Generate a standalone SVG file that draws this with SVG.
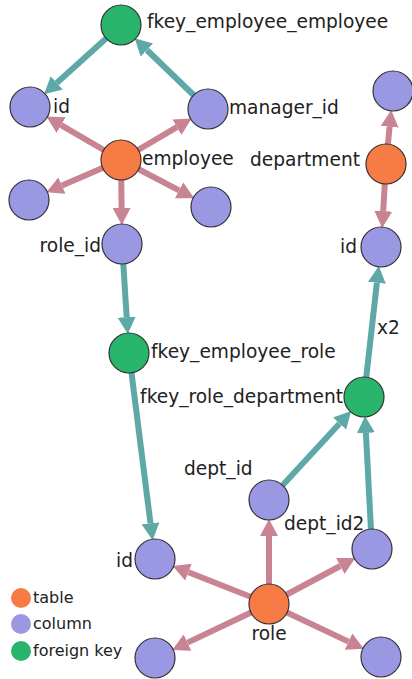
<svg xmlns="http://www.w3.org/2000/svg" width="412" height="679" viewBox="0 0 412 679">
<style>
.fk{stroke:#5fa8a8;stroke-width:6;fill:none;marker-end:url(#ah-fk)}
.col{stroke:#c98494;stroke-width:6;fill:none;marker-end:url(#ah-col)}
circle{stroke:#333;stroke-width:1.2}
#legend circle{stroke:none}
.t{fill:#f77b45}.c{fill:#9b98e3}.f{fill:#28b46a}
text{font-family:"DejaVu Sans",sans-serif;font-size:18.6px;fill:#222}
.lg{font-size:16px}
.e{text-anchor:end}.m{text-anchor:middle}
</style>
<defs>
<marker id="ah-fk" markerUnits="userSpaceOnUse" markerWidth="17" markerHeight="18" refX="0" refY="9" orient="auto"><path d="M0,0 L17,9 L0,18 z" fill="#5fa8a8"/></marker>
<marker id="ah-col" markerUnits="userSpaceOnUse" markerWidth="17" markerHeight="18" refX="0" refY="9" orient="auto"><path d="M0,0 L17,9 L0,18 z" fill="#c98494"/></marker>
</defs>
<g id="connectors">
<line class="fk" x1="121" y1="25" x2="56.7" y2="82.9"/>
<line class="fk" x1="208" y1="109" x2="146.9" y2="50"/>
<line class="fk" x1="122" y1="244" x2="126.7" y2="317.1"/>
<line class="fk" x1="129" y1="353" x2="150.5" y2="523.3"/>
<line class="fk" x1="364" y1="397" x2="376.9" y2="282.8"/>
<line class="fk" x1="269" y1="500" x2="339.6" y2="423.5"/>
<line class="fk" x1="372" y1="549" x2="365.9" y2="432.9"/>
<line class="col" x1="121" y1="160" x2="61.1" y2="125.1"/>
<line class="col" x1="121" y1="160" x2="176.9" y2="127.2"/>
<line class="col" x1="121" y1="160" x2="62" y2="185.6"/>
<line class="col" x1="121" y1="160" x2="179.1" y2="190.3"/>
<line class="col" x1="121" y1="160" x2="121.6" y2="208"/>
<line class="col" x1="386" y1="164" x2="389.6" y2="126.8"/>
<line class="col" x1="386" y1="164" x2="383.2" y2="211.1"/>
<line class="col" x1="269" y1="604" x2="188.5" y2="572.2"/>
<line class="col" x1="269" y1="604" x2="269" y2="536"/>
<line class="col" x1="269" y1="604" x2="340.3" y2="566"/>
<line class="col" x1="269" y1="604" x2="187.5" y2="642.6"/>
<line class="col" x1="269" y1="604" x2="348.5" y2="641.6"/>
<text x="377" y="334">x2</text>
</g>
<g id="fkey_employee_employee"><circle class="f" cx="121" cy="25" r="20"/><text x="147" y="28">fkey_employee_employee</text></g>
<g id="employee_id"><circle class="c" cx="30" cy="107" r="20"/><text x="53" y="113">id</text></g>
<g id="manager_id"><circle class="c" cx="208" cy="109" r="20"/><text x="229" y="114">manager_id</text></g>
<g id="department_col"><circle class="c" cx="393" cy="91" r="20"/></g>
<g id="employee"><circle class="t" cx="121" cy="160" r="20"/><text x="142" y="165">employee</text></g>
<g id="department"><circle class="t" cx="386" cy="164" r="20"/><text class="e" x="360" y="166">department</text></g>
<g id="employee_col1"><circle class="c" cx="29" cy="200" r="20"/></g>
<g id="employee_col2"><circle class="c" cx="211" cy="207" r="20"/></g>
<g id="role_id"><circle class="c" cx="122" cy="244" r="20"/><text class="e" x="101" y="252">role_id</text></g>
<g id="department_id"><circle class="c" cx="381" cy="247" r="20"/><text class="e" x="357" y="253">id</text></g>
<g id="fkey_employee_role"><circle class="f" cx="129" cy="353" r="20"/><text x="151" y="358">fkey_employee_role</text></g>
<g id="fkey_role_department"><circle class="f" cx="364" cy="397" r="20"/><text class="e" x="343" y="403">fkey_role_department</text></g>
<g id="dept_id"><circle class="c" cx="269" cy="500" r="20"/><text x="184" y="475">dept_id</text></g>
<g id="dept_id2"><circle class="c" cx="372" cy="549" r="20"/><text x="284" y="530">dept_id2</text></g>
<g id="role_idcol"><circle class="c" cx="155" cy="559" r="20"/><text class="e" x="133" y="567">id</text></g>
<g id="role"><circle class="t" cx="269" cy="604" r="20"/><text class="m" x="269" y="640">role</text></g>
<g id="role_col1"><circle class="c" cx="155" cy="658" r="20"/></g>
<g id="role_col2"><circle class="c" cx="381" cy="657" r="20"/></g>
<g id="legend">
<circle class="t" cx="21" cy="598" r="10"/><text class="lg" x="33" y="603">table</text>
<circle class="c" cx="21" cy="624" r="10"/><text class="lg" x="33" y="629">column</text>
<circle class="f" cx="21" cy="651" r="10"/><text class="lg" x="33" y="656">foreign key</text>
</g>
</svg>
